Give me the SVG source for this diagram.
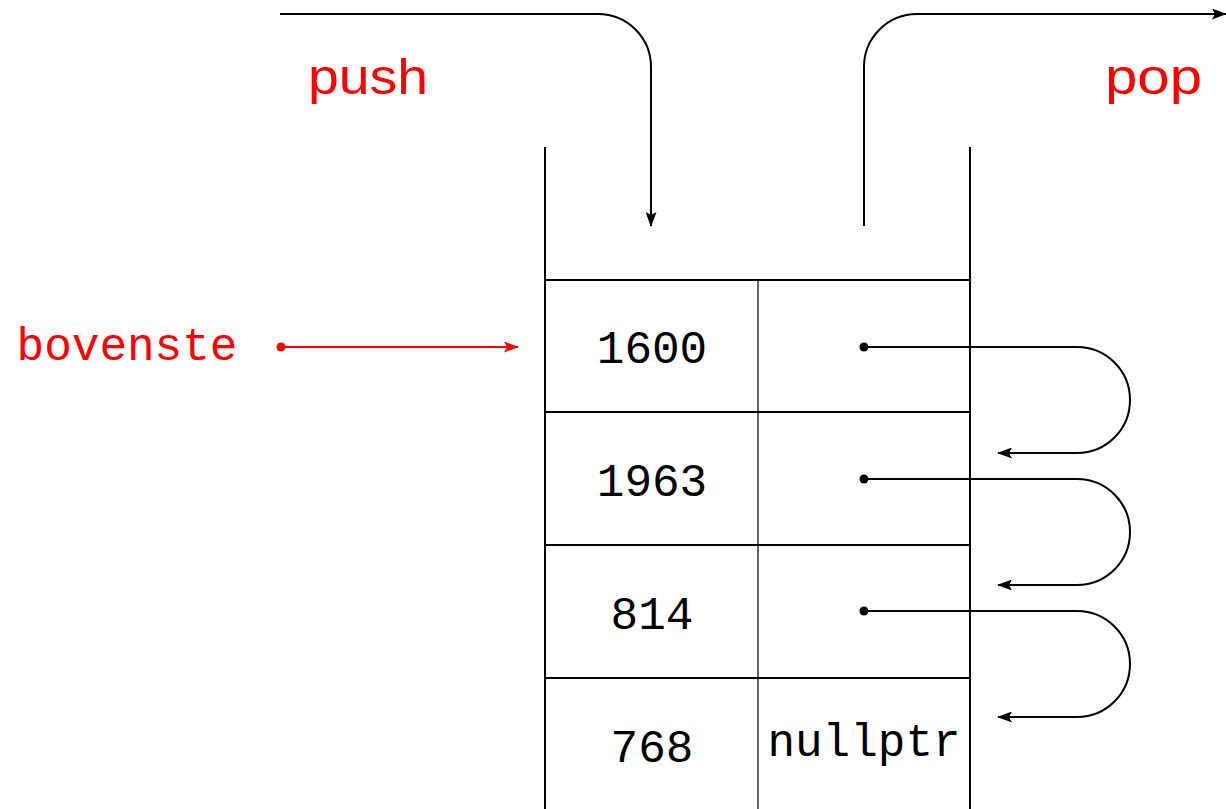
<svg xmlns="http://www.w3.org/2000/svg" width="1226" height="809" viewBox="0 0 1226 809">
<style>
.ln{fill:none;stroke:#000;stroke-width:2}
.thin{fill:none;stroke:#000;stroke-width:1.2}
.red{fill:none;stroke:#f00;stroke-width:2}
.sans{font-family:"Liberation Sans","DejaVu Sans",sans-serif;font-size:50px;fill:#f00}
.mono{font-family:"Liberation Mono","DejaVu Sans Mono",monospace;font-size:46px;fill:#000;text-anchor:middle}
</style>
<defs>
<marker id="ah" markerWidth="15" markerHeight="11" refX="14" refY="5.5" orient="auto" markerUnits="userSpaceOnUse">
<path d="M0,0 L15,5.5 L0,11 L3,5.5 Z" fill="#000"/>
</marker>
<marker id="ahr" markerWidth="15" markerHeight="11" refX="14" refY="5.5" orient="auto" markerUnits="userSpaceOnUse">
<path d="M0,0 L15,5.5 L0,11 L3,5.5 Z" fill="#f00"/>
</marker>
</defs>
<rect width="1226" height="809" fill="#fff"/>
<g id="stack">
<line class="ln" x1="545" y1="147" x2="545" y2="809"/>
<line class="ln" x1="970" y1="147" x2="970" y2="809"/>
<line class="ln" x1="545" y1="280" x2="970" y2="280"/>
<line class="ln" x1="545" y1="412" x2="970" y2="412"/>
<line class="ln" x1="545" y1="545" x2="970" y2="545"/>
<line class="ln" x1="545" y1="678" x2="970" y2="678"/>
<line class="thin" x1="758" y1="280" x2="758" y2="809"/>
</g>
<g id="node1"><text class="mono" x="652" y="363">1600</text></g>
<g id="node2"><text class="mono" x="652" y="496">1963</text></g>
<g id="node3"><text class="mono" x="652" y="629">814</text></g>
<g id="node4"><text class="mono" x="652" y="762">768</text><text class="mono" x="864" y="756">nullptr</text></g>
<g id="labels">
<text class="sans" x="308" y="94" textLength="120" lengthAdjust="spacingAndGlyphs">push</text>
<text class="sans" x="1105" y="94" textLength="97" lengthAdjust="spacingAndGlyphs">pop</text>
<text class="mono" x="127" y="360" style="fill:#f00">bovenste</text>
</g>
<g id="connectors">
<path class="ln" d="M280,14 H598 A53,53 0 0 1 651,67 V226" marker-end="url(#ah)"/>
<path class="ln" d="M864,226 V67 A53,53 0 0 1 917,14 H1226" marker-end="url(#ah)"/>
<circle cx="281" cy="347" r="4.5" fill="#f00"/>
<path class="red" d="M281,347 H518" marker-end="url(#ahr)"/>
<circle cx="864" cy="347" r="4.5"/>
<path class="ln" d="M864,347 H1077 A53,53 0 0 1 1077,453 H998" marker-end="url(#ah)"/>
<circle cx="864" cy="479" r="4.5"/>
<path class="ln" d="M864,479 H1077 A53,53 0 0 1 1077,585 H998" marker-end="url(#ah)"/>
<circle cx="864" cy="611" r="4.5"/>
<path class="ln" d="M864,611 H1077 A53,53 0 0 1 1077,717 H998" marker-end="url(#ah)"/>
</g>
</svg>
